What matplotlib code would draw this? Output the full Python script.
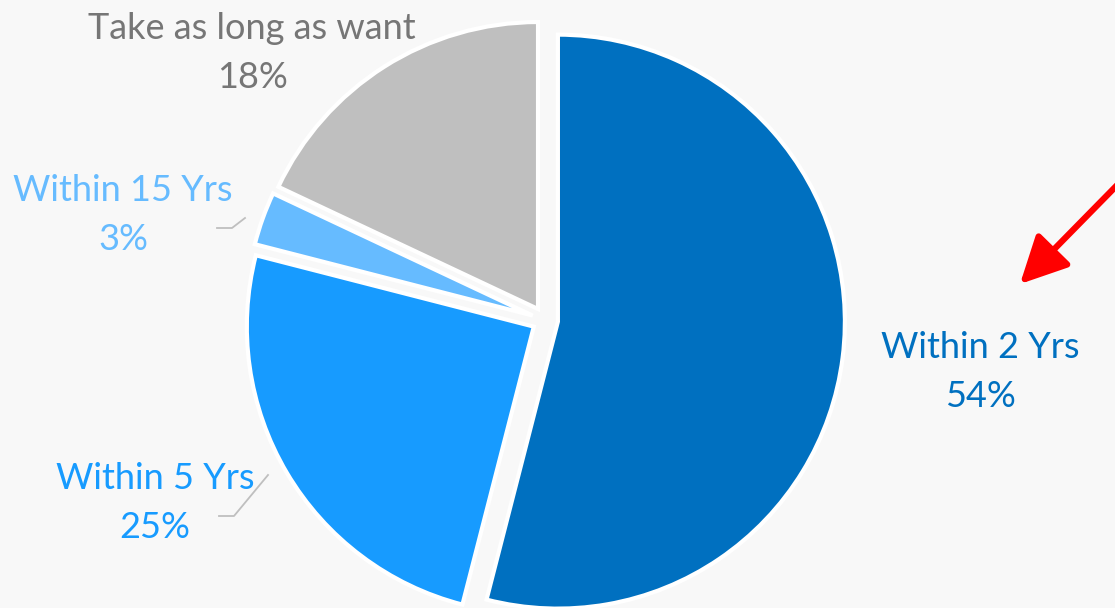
import matplotlib
matplotlib.use('Agg')
import matplotlib.pyplot as plt

labels = ['Within 2 Yrs', 'Within 5 Yrs', 'Within 15 Yrs', 'Take as long as want']
values = [54, 25, 3, 18]
colors = ['#0070c0', '#179bff', '#66bbff', '#bfbfbf']
text_colors = ['#0070c0', '#179bff', '#66bbff', '#767676']

W, H = 1115, 608
bg = '#f8f8f8'

plt.rcParams['font.family'] = ['Lato', 'DejaVu Sans']

fig = plt.figure(figsize=(W / 100, H / 100), dpi=100, facecolor=bg)
ax = fig.add_axes([0, 0, 1, 1])
ax.set_facecolor(bg)

ax.pie(values, colors=colors, startangle=90, counterclock=False,
       center=(545, H - 320), radius=287, explode=[13] * 4,
       wedgeprops=dict(edgecolor='white', linewidth=3))

# pie() resets the limits, so set them afterwards
ax.set_xlim(0, W)
ax.set_ylim(0, H)
ax.set_aspect('equal')
ax.axis('off')

# label positions (pixels from top-left)
label_pos = [(980, 372), (155, 503), (123, 215), (252, 53)]
for lab, v, c, (x, y) in zip(labels, values, text_colors, label_pos):
    ax.text(x, H - y, f'{lab}\n{v}%', color=c, fontsize=26,
            ha='center', va='center', linespacing=1.6)

# leader lines
for pts in [[(217, 228), (232, 228), (245, 218)],
            [(219, 516), (234, 516), (268, 475)]]:
    xs = [p[0] for p in pts]
    ys = [H - p[1] for p in pts]
    ax.plot(xs, ys, color='#bfbfbf', lw=1.3)

# red arrow
ax.annotate('', xy=(1020, H - 284), xytext=(1130, H - 172),
            arrowprops=dict(arrowstyle='-|>,head_width=0.4,head_length=0.8',
                            color='red', lw=4.5, mutation_scale=36,
                            shrinkA=0, shrinkB=0))

fig.savefig('out.png', dpi=100, facecolor=bg)
